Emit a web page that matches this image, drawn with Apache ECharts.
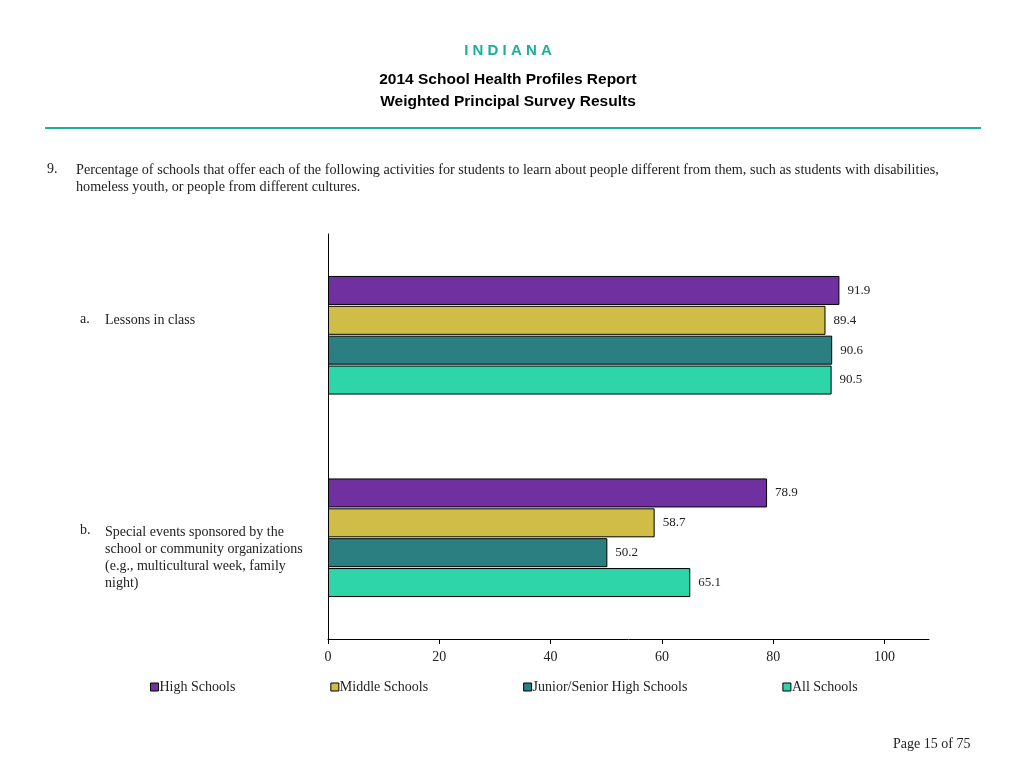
<!DOCTYPE html>
<html>
<head>
<meta charset="utf-8">
<script src="https://cdn.jsdelivr.net/npm/echarts@6/dist/echarts.min.js"></script>
<style>
html,body{margin:0;padding:0;background:#fff;}
#c{width:1024px;height:768px;}
</style>
</head>
<body>
<div id="c"></div>
<script>
var categories = ['Lessons in class', 'Special events sponsored by the\nschool or community organizations\n(e.g., multicultural week, family\nnight)'];
var categoryLetters = ['a.', 'b.'];
var seriesNames = ['High Schools', 'Middle Schools', 'Junior/Senior High Schools', 'All Schools'];
var highSchools = [91.9, 78.9];
var middleSchools = [89.4, 58.7];
var juniorSeniorHigh = [90.6, 50.2];
var allSchools = [90.5, 65.1];
var colors = ['#7030A0', '#CFBD48', '#2B7F81', '#2ED5A8'];

var serif = 'Liberation Serif';
var sans = 'Liberation Sans';
var chart = echarts.init(document.getElementById('c'));
var values = [highSchools, middleSchools, juniorSeniorHigh, allSchools];

var series = seriesNames.map(function (n, i) {
  return {
    name: n, type: 'bar', data: values[i],
    barWidth: 29, barGap: '3%',
    itemStyle: { color: colors[i], borderColor: '#000', borderWidth: 1 },
    label: { show: true, position: 'right', distance: 8, color: '#222', fontFamily: serif, fontSize: 13,
      formatter: function (p) { return p.value.toFixed(1); } },
    emphasis: { disabled: true },
    animation: false
  };
});

chart.setOption({
  animation: false,
  grid: { left: 328, top: 234, width: 601, height: 405, containLabel: false },
  xAxis: {
    type: 'value', min: 0, max: 108, interval: 20,
    axisLine: { show: true, lineStyle: { color: '#000', width: 1 } },
    axisTick: { show: true, length: 5, inside: false, lineStyle: { color: '#000' } },
    axisLabel: { fontFamily: serif, fontSize: 14, color: '#222', margin: 11, showMaxLabel: false },
    splitLine: { show: false }
  },
  yAxis: {
    type: 'category', data: categories, inverse: true,
    axisLine: { show: true, lineStyle: { color: '#000', width: 1 } },
    axisTick: { show: false },
    axisLabel: { show: false }
  },
  legend: {
    data: seriesNames, left: 145, top: 675, icon: 'rect', itemWidth: 8, itemHeight: 8, itemGap: 95,
    textStyle: { fontFamily: serif, fontSize: 14, color: '#222', padding: [0, 0, 0, -4] },
    itemStyle: { borderColor: '#000', borderWidth: 1 },
    selectedMode: false
  },
  series: series
});

var graphics = [
  { type: 'text', x: 508, y: 43, style: { text: 'I N D I A N A', font: 'bold 15px ' + sans, fill: '#1AAF9A', align: 'center' } },
  { type: 'text', x: 508, y: 72, style: { text: '2014 School Health Profiles Report', font: 'bold 15.5px ' + sans, fill: '#000', align: 'center' } },
  { type: 'text', x: 508, y: 94, style: { text: 'Weighted Principal Survey Results', font: 'bold 15.5px ' + sans, fill: '#000', align: 'center' } },
  { type: 'rect', shape: { x: 45, y: 127, width: 936, height: 2 }, style: { fill: '#1AAF9A' } },
  { type: 'text', x: 47, y: 162, style: { text: '9.', font: '14px ' + serif, fill: '#222' } },
  { type: 'text', x: 76, y: 162, style: { text: 'Percentage of schools that offer each of the following activities for students to learn about people different from them, such as students with disabilities,\nhomeless youth, or people from different cultures.', font: '14.2px ' + serif, fill: '#222', lineHeight: 17 } },
  { type: 'text', x: 893, y: 737, style: { text: 'Page 15 of 75', font: '14px ' + serif, fill: '#222' } }
];
var offs = [-23, -14];
categories.forEach(function (c, i) {
  var y = chart.convertToPixel({ yAxisIndex: 0 }, i) + offs[i];
  graphics.push({ type: 'text', x: 80, y: y, style: { text: categoryLetters[i], font: '14px ' + serif, fill: '#222' } });
  graphics.push({ type: 'text', x: 105, y: y, style: { text: c, font: '14px ' + serif, fill: '#222', lineHeight: 17 } });
});
chart.setOption({ graphic: graphics });
</script>
</body>
</html>
